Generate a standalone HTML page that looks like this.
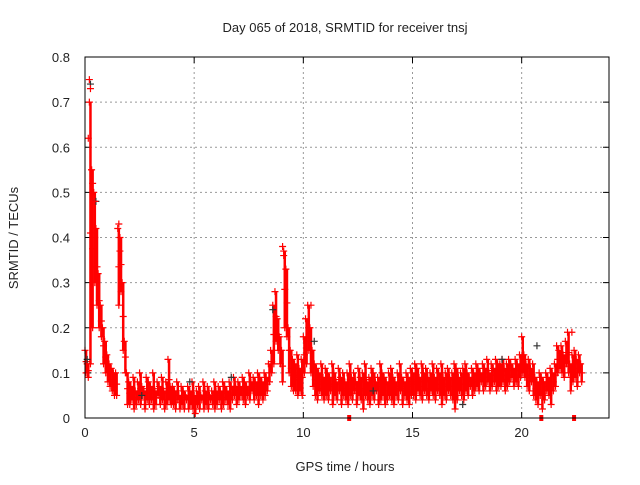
<!DOCTYPE html>
<html><head><meta charset="utf-8"><style>
body{margin:0;background:#fff}
svg text{font-family:"Liberation Sans",sans-serif;font-size:13px;fill:#222}
</style></head><body>
<svg id="chart" width="640" height="480" xmlns="http://www.w3.org/2000/svg">
<text x="345" y="32" text-anchor="middle">Day 065 of 2018, SRMTID for receiver tnsj</text>
<text x="345" y="471" text-anchor="middle">GPS time / hours</text>
<text x="18" y="238" text-anchor="middle" transform="rotate(-90 18 238)">SRMTID / TECUs</text>
<g id="grid"></g><g id="marks"></g>
<rect x="85" y="57" width="524" height="361" fill="none" stroke="#000" stroke-width="1"/>
</svg>
<script>
const xTicks=[0,5,10,15,20];
const yTicks=[0,0.1,0.2,0.3,0.4,0.5,0.6,0.7,0.8];
const yTickLabels=["0","0.1","0.2","0.3","0.4","0.5","0.6","0.7","0.8"];
const stepHours=0.1;
const hiVals=[.15,.12,.70,.55,.50,.42,.32,.25,.20,.17,
.14,.12,.11,.10,.10,.42,.40,.30,.17,.10,
.08,.07,.09,.06,.08,.10,.07,.06,.09,.08,.07,.10,.06,.08,.07,.09,.06,.08,.13,.07,
.07,.06,.08,.05,.07,.06,.05,.07,.06,.08,.05,.06,.07,.05,.08,.06,.07,.05,.06,.08,
.06,.07,.06,.08,.07,.06,.08,.07,.09,.07,.08,.07,.09,.08,.07,.10,.08,.09,.08,.10,
.09,.08,.10,.09,.12,.15,.25,.28,.22,.18,
.15,.37,.33,.20,.15,.13,.12,.14,.11,.13,
.18,.22,.25,.20,.15,.12,.11,.10,.12,.09,
.11,.10,.09,.12,.10,.08,.11,.09,.10,.08,.10,.12,.09,.10,.08,.11,.09,.10,.12,.08,
.09,.11,.10,.08,.09,.12,.10,.09,.08,.10,.11,.09,.08,.10,.12,.09,.08,.10,.09,.11,
.10,.12,.11,.09,.12,.10,.11,.09,.10,.12,.09,.11,.10,.12,.09,.10,.11,.09,.10,.12,
.11,.09,.10,.11,.12,.10,.09,.11,.10,.12,.11,.10,.12,.11,.13,.10,.12,.11,.13,.12,
.12,.13,.11,.12,.13,.12,.11,.13,.12,.14,
.18,.14,.12,.13,.11,.12,.09,.08,.10,.09,.08,.10,.09,.11,.10,.12,.16,.15,.16,.14,
.17,.19,.12,.14,.15,.13,.14,.12];
const loVals=[.10,.09,.12,.20,.30,.25,.20,.18,.12,.10,
.08,.07,.06,.05,.05,.25,.28,.15,.10,.03,
.03,.04,.02,.03,.04,.03,.05,.02,.04,.03,.04,.02,.03,.05,.03,.04,.02,.03,.04,.03,
.03,.02,.04,.02,.03,.02,.04,.02,.03,.02,.01,.03,.02,.04,.02,.03,.02,.04,.03,.02,
.03,.04,.02,.03,.04,.03,.02,.04,.05,.03,.04,.05,.04,.03,.05,.04,.06,.04,.05,.03,
.05,.04,.05,.06,.08,.10,.12,.17,.15,.12,
.08,.20,.18,.10,.07,.06,.06,.05,.06,.05,
.10,.12,.15,.10,.07,.05,.04,.06,.05,.04,
.05,.04,.06,.03,.05,.04,.06,.03,.05,.04,.03,.05,.04,.06,.03,.05,.04,.02,.05,.04,
.03,.05,.04,.06,.03,.04,.05,.03,.04,.05,.04,.03,.05,.04,.06,.03,.05,.04,.03,.05,
.05,.04,.06,.05,.04,.06,.05,.04,.06,.05,.04,.06,.05,.03,.05,.04,.06,.05,.04,.02,
.04,.06,.05,.04,.06,.05,.07,.05,.06,.07,.06,.08,.06,.07,.08,.06,.07,.08,.06,.07,
.07,.08,.06,.07,.08,.09,.07,.08,.07,.09,
.10,.09,.07,.06,.08,.05,.04,.03,.05,.02,.04,.06,.05,.03,.06,.07,.10,.11,.10,.09,
.12,.10,.06,.08,.09,.07,.10,.08];
const spikeT=[0.15,0.2,0.25,0.3,0.35,0.45,1.55,1.6,9.05,9.1,10.35,22.3];
const spikeV=[0.62,0.75,0.73,0.55,0.52,0.48,0.43,0.37,0.38,0.36,0.25,0.19];
const darkT=[0.1,0.25,0.5,2.6,4.8,6.7,8.6,10.5,13.2,17.3,19.1,20.7];
const darkV=[0.13,0.74,0.48,0.05,0.08,0.09,0.24,0.17,0.06,0.03,0.13,0.16];
const flagT=[12.1,20.9,22.4];
const X=t=>85+t*(524/24), Y=v=>418-v*(361/0.8);
const NS="http://www.w3.org/2000/svg";
const grid=document.getElementById('grid'), marks=document.getElementById('marks');
function mk(tag,attrs,parent){const e=document.createElementNS(NS,tag);for(const k in attrs)e.setAttribute(k,attrs[k]);parent.appendChild(e);return e;}
xTicks.forEach(t=>{
  if(t>0){const g=mk('line',{x1:X(t),x2:X(t),y1:57,y2:418,stroke:'#999','stroke-dasharray':'2,3'},grid);
  
  }
  mk('line',{x1:X(t),x2:X(t),y1:418,y2:412,stroke:'#000'},grid);
  mk('line',{x1:X(t),x2:X(t),y1:57,y2:63,stroke:'#000'},grid);
  const l=mk('text',{x:X(t),y:437,'text-anchor':'middle'},grid);l.textContent=t;
  
  
});
yTicks.forEach((v,i)=>{
  if(v>0&&v<0.8){const g=mk('line',{x1:85,x2:609,y1:Y(v),y2:Y(v),stroke:'#999','stroke-dasharray':'2,3'},grid);
  
  }
  mk('line',{x1:85,x2:91,y1:Y(v),y2:Y(v),stroke:'#000'},grid);
  mk('line',{x1:603,x2:609,y1:Y(v),y2:Y(v),stroke:'#000'},grid);
  const l=mk('text',{x:70,y:Y(v)+5,'text-anchor':'end'},grid);l.textContent=yTickLabels[i];
  
  
});
function plus(t,v,c,name){
  const x=X(t),y=Y(v);
  const p=mk('path',{d:`M${x-3.5} ${y}H${x+3.5}M${x} ${y-3.5}V${y+3.5}`,stroke:c,'stroke-width':1.2,fill:'none'},marks);
  
  
}
hiVals.forEach((h,i)=>{
  const t=i*stepHours, lo=loVals[i];
  const b=mk('line',{x1:X(t+0.05),x2:X(t+0.05),y1:Y(h),y2:Y(lo),stroke:'#f00','stroke-width':2.5},marks);
  
  
  plus(t,h,'#f00','srmtid-point');
  plus(t+0.05,lo,'#f00','srmtid-point');
  plus(t+0.05,(h+lo)/2,'#f00','srmtid-point');
});
darkT.forEach((t,i)=>plus(t,darkV[i],'#333','srmtid-dark-point'));
spikeT.forEach((t,i)=>plus(t,spikeV[i],'#f00','srmtid-spike-point'));
flagT.forEach(t=>{
  const r=mk('rect',{x:X(t)-2,y:415,width:4,height:6,fill:'#f00'},marks);
  
  
});
</script>
</body></html>
